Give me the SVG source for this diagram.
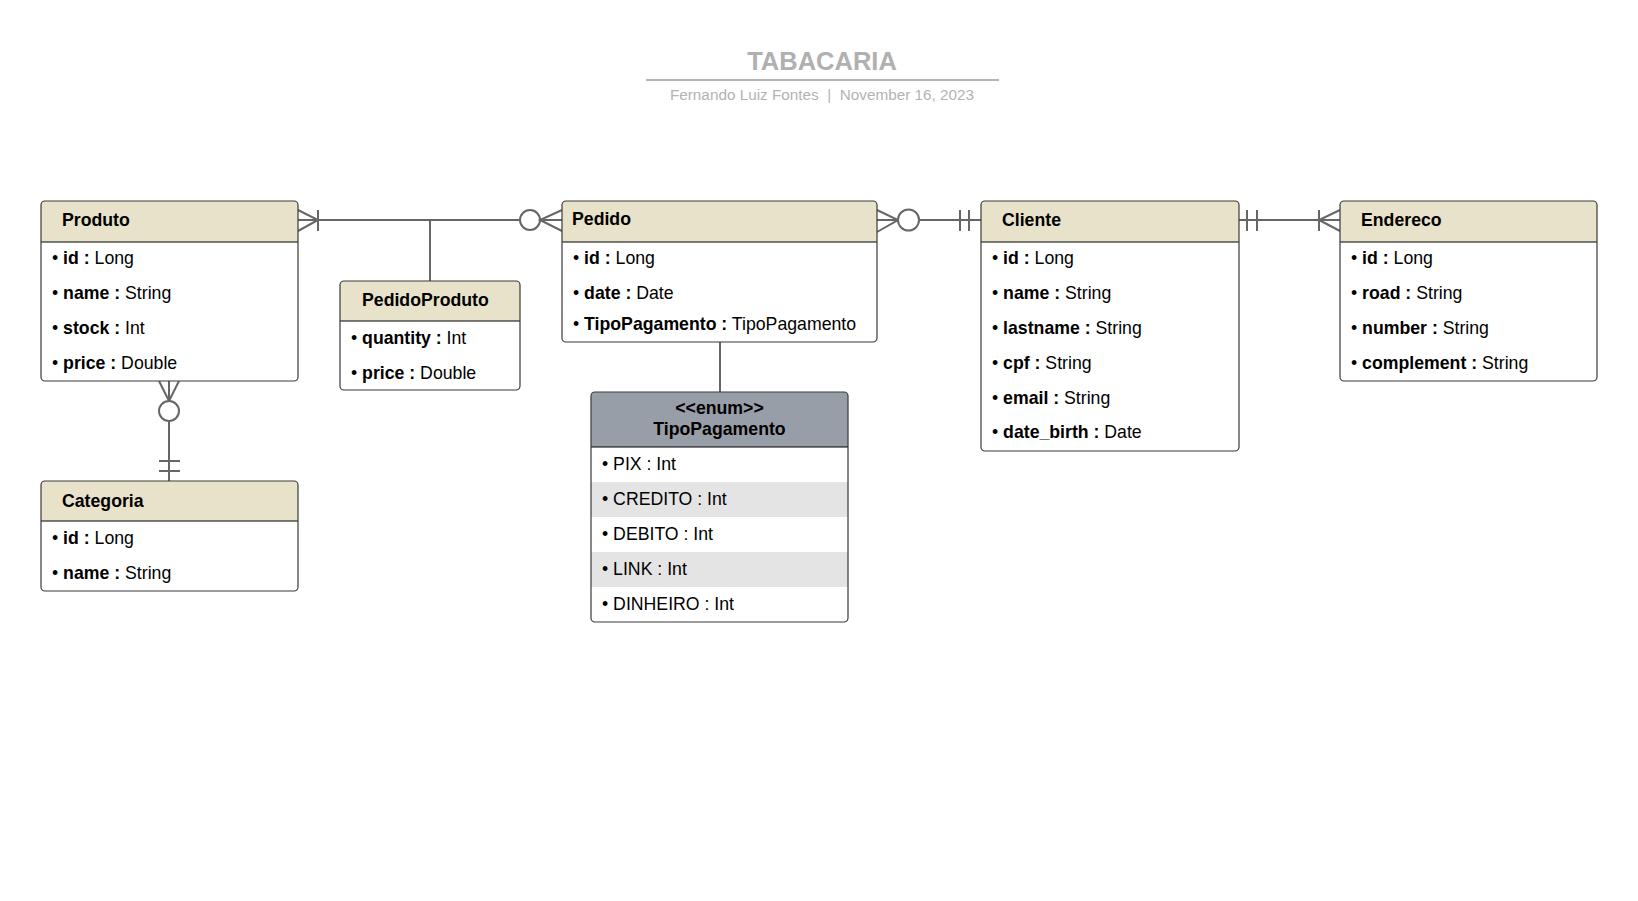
<svg xmlns="http://www.w3.org/2000/svg" width="1638" height="901" viewBox="0 0 1638 901">
<style>
  .bg{fill:#ffffff}
  .box{fill:#ffffff;stroke:none}
  .outline{fill:none;stroke:#3a3a3a;stroke-width:1.2}
  .hd{fill:#e8e2ca}
  .hdEnum{fill:#989ea8}
  .sep{stroke:#000000;stroke-width:1.2}
  .alt{fill:#e4e4e4}
  .t{font-family:"Liberation Sans",Arial,sans-serif;font-size:17.7px;fill:#000000}
  .b{font-weight:bold}
  .ttl{font-family:"Liberation Sans",Arial,sans-serif;font-size:17.7px;font-weight:bold;fill:#000000}
  .conn{fill:none;stroke:#666666;stroke-width:2}
  .circ{fill:#ffffff;stroke:#666666;stroke-width:2}
  .title{font-family:"Liberation Sans",Arial,sans-serif;font-size:25.5px;font-weight:bold;fill:#b0b0b0}
  .sub{font-family:"Liberation Sans",Arial,sans-serif;font-size:15.3px;fill:#b3b3b3;white-space:pre}
</style>
<rect class="bg" x="0" y="0" width="1638" height="901"/>

<g id="header">
  <text class="title" x="822" y="70" text-anchor="middle">TABACARIA</text>
  <line x1="646" y1="80" x2="999" y2="80" stroke="#b3b3b3" stroke-width="2"/>
  <text class="sub" x="822" y="100" text-anchor="middle" xml:space="preserve">Fernando Luiz Fontes  |  November 16, 2023</text>
</g>

<g id="connectors">
  <!-- Produto - Pedido (PedidoProduto) -->
  <path class="conn" d="M298,220 H520"/>
  <path class="conn" d="M298,210 L318,220 L298,231"/>
  <path class="conn" d="M318,210 V231"/>
  <path class="conn" d="M430,220 V281"/>
  <circle class="circ" cx="530" cy="220" r="10"/>
  <path class="conn" d="M562,210 L540,220 L562,231 M540,220 H562"/>
  <!-- Produto - Categoria -->
  <path class="conn" d="M169,381 V401 M159,381 L169,401 L179,381"/>
  <circle class="circ" cx="169" cy="411" r="10"/>
  <path class="conn" d="M169,421 V481 M159,461 H180 M159,471 H180"/>
  <!-- Pedido - Cliente -->
  <path class="conn" d="M877,210 L898,220 L877,232 M877,220 H898"/>
  <circle class="circ" cx="908.5" cy="220" r="10.5"/>
  <path class="conn" d="M919,220 H981 M960,210 V231 M969,210 V231"/>
  <!-- Cliente - Endereco -->
  <path class="conn" d="M1239,220 H1340 M1247,210 V231 M1257,210 V231"/>
  <path class="conn" d="M1340,210 L1319,220 L1340,231 M1319,210 V231"/>
  <!-- Pedido - TipoPagamento -->
  <path class="conn" d="M720,342 V392"/>
</g>

<g id="produto">
  <rect class="box" x="41" y="201" width="257" height="180" rx="4"/>
  <path class="hd" d="M41,242 V205 Q41,201 45,201 H294 Q298,201 298,205 V242 Z"/>
  <line class="sep" x1="41" y1="242" x2="298" y2="242"/>
  <rect class="outline" x="41" y="201" width="257" height="180" rx="4"/>
  <text class="ttl" x="62" y="226">Produto</text>
  <text class="t" x="52" y="264">• <tspan class="b">id :</tspan> Long</text>
  <text class="t" x="52" y="299">• <tspan class="b">name :</tspan> String</text>
  <text class="t" x="52" y="334">• <tspan class="b">stock :</tspan> Int</text>
  <text class="t" x="52" y="369">• <tspan class="b">price :</tspan> Double</text>
</g>

<g id="categoria">
  <rect class="box" x="41" y="481" width="257" height="110" rx="4"/>
  <path class="hd" d="M41,521 V485 Q41,481 45,481 H294 Q298,481 298,485 V521 Z"/>
  <line class="sep" x1="41" y1="521" x2="298" y2="521"/>
  <rect class="outline" x="41" y="481" width="257" height="110" rx="4"/>
  <text class="ttl" x="62" y="507">Categoria</text>
  <text class="t" x="52" y="544">• <tspan class="b">id :</tspan> Long</text>
  <text class="t" x="52" y="579">• <tspan class="b">name :</tspan> String</text>
</g>

<g id="pedidoproduto">
  <rect class="box" x="340" y="281" width="180" height="109" rx="4"/>
  <path class="hd" d="M340,321 V285 Q340,281 344,281 H516 Q520,281 520,285 V321 Z"/>
  <line class="sep" x1="340" y1="321" x2="520" y2="321"/>
  <rect class="outline" x="340" y="281" width="180" height="109" rx="4"/>
  <text class="ttl" x="362" y="306">PedidoProduto</text>
  <text class="t" x="351" y="344">• <tspan class="b">quantity :</tspan> Int</text>
  <text class="t" x="351" y="379">• <tspan class="b">price :</tspan> Double</text>
</g>

<g id="pedido">
  <rect class="box" x="562" y="201" width="315" height="141" rx="4"/>
  <path class="hd" d="M562,242 V205 Q562,201 566,201 H873 Q877,201 877,205 V242 Z"/>
  <line class="sep" x1="562" y1="242" x2="877" y2="242"/>
  <rect class="outline" x="562" y="201" width="315" height="141" rx="4"/>
  <text class="ttl" x="572" y="225">Pedido</text>
  <text class="t" x="573" y="264">• <tspan class="b">id :</tspan> Long</text>
  <text class="t" x="573" y="299">• <tspan class="b">date :</tspan> Date</text>
  <text class="t" x="573" y="330">• <tspan class="b">TipoPagamento :</tspan> TipoPagamento</text>
</g>

<g id="tipopagamento">
  <rect class="box" x="591" y="392" width="257" height="230" rx="4"/>
  <path class="hdEnum" d="M591,447 V396 Q591,392 595,392 H844 Q848,392 848,396 V447 Z"/>
  <rect class="alt" x="591" y="482" width="257" height="35"/>
  <rect class="alt" x="591" y="552" width="257" height="35"/>
  <line class="sep" x1="591" y1="447" x2="848" y2="447"/>
  <rect class="outline" x="591" y="392" width="257" height="230" rx="4"/>
  <text class="ttl" x="719.5" y="414" text-anchor="middle">&lt;&lt;enum&gt;&gt;</text>
  <text class="ttl" x="719.5" y="435" text-anchor="middle">TipoPagamento</text>
  <text class="t" x="602" y="470">• PIX : Int</text>
  <text class="t" x="602" y="505">• CREDITO : Int</text>
  <text class="t" x="602" y="540">• DEBITO : Int</text>
  <text class="t" x="602" y="575">• LINK : Int</text>
  <text class="t" x="602" y="610">• DINHEIRO : Int</text>
</g>

<g id="cliente">
  <rect class="box" x="981" y="201" width="258" height="250" rx="4"/>
  <path class="hd" d="M981,242 V205 Q981,201 985,201 H1235 Q1239,201 1239,205 V242 Z"/>
  <line class="sep" x1="981" y1="242" x2="1239" y2="242"/>
  <rect class="outline" x="981" y="201" width="258" height="250" rx="4"/>
  <text class="ttl" x="1002" y="226">Cliente</text>
  <text class="t" x="992" y="264">• <tspan class="b">id :</tspan> Long</text>
  <text class="t" x="992" y="299">• <tspan class="b">name :</tspan> String</text>
  <text class="t" x="992" y="334">• <tspan class="b">lastname :</tspan> String</text>
  <text class="t" x="992" y="369">• <tspan class="b">cpf :</tspan> String</text>
  <text class="t" x="992" y="404">• <tspan class="b">email :</tspan> String</text>
  <text class="t" x="992" y="438">• <tspan class="b">date_birth :</tspan> Date</text>
</g>

<g id="endereco">
  <rect class="box" x="1340" y="201" width="257" height="180" rx="4"/>
  <path class="hd" d="M1340,242 V205 Q1340,201 1344,201 H1593 Q1597,201 1597,205 V242 Z"/>
  <line class="sep" x1="1340" y1="242" x2="1597" y2="242"/>
  <rect class="outline" x="1340" y="201" width="257" height="180" rx="4"/>
  <text class="ttl" x="1361" y="226">Endereco</text>
  <text class="t" x="1351" y="264">• <tspan class="b">id :</tspan> Long</text>
  <text class="t" x="1351" y="299">• <tspan class="b">road :</tspan> String</text>
  <text class="t" x="1351" y="334">• <tspan class="b">number :</tspan> String</text>
  <text class="t" x="1351" y="369">• <tspan class="b">complement :</tspan> String</text>
</g>
</svg>
